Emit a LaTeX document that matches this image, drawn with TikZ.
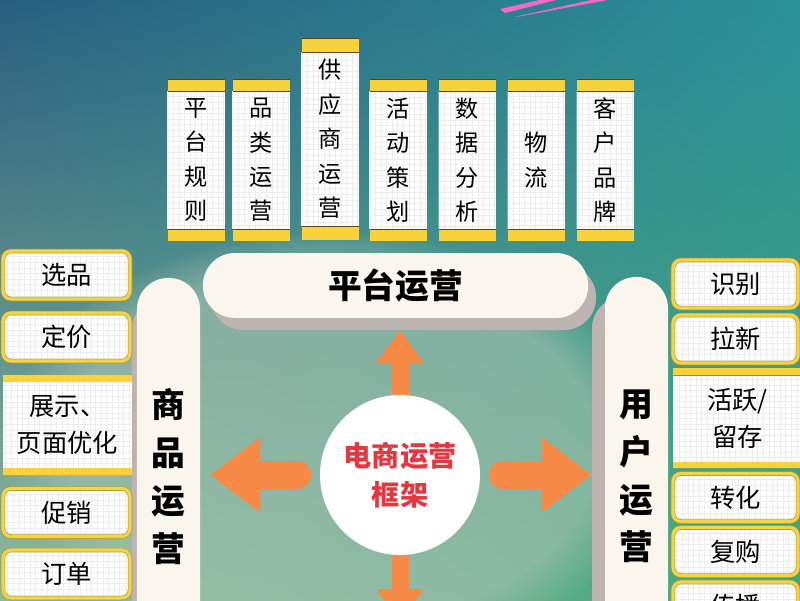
\documentclass[tikz,border=0pt]{standalone}
\usepackage{fontspec}
\setmainfont{Noto Sans CJK SC}
\usetikzlibrary{arrows.meta, positioning, calc, fadings, shadings}

\definecolor{bgul}{HTML}{285F80}
\definecolor{bgur}{HTML}{2B9199}
\definecolor{bgll}{HTML}{8DBB98}
\definecolor{bglr}{HTML}{3FA67C}
\definecolor{bglight}{HTML}{A9C3B2}
\definecolor{cream}{HTML}{FAF6EE}
\definecolor{shadowgrey}{HTML}{BDB3B0}
\definecolor{gold}{HTML}{F8D23A}
\definecolor{barline}{HTML}{5A4320}
\definecolor{boxgold}{HTML}{F3D34A}
\definecolor{boxedge}{HTML}{B39A2E}
\definecolor{gridgrey}{HTML}{ECECEC}
\definecolor{arroworange}{HTML}{F78A46}
\definecolor{hubred}{HTML}{E53740}
\definecolor{scribble}{HTML}{F06AC9}

\tikzset{
  gridline/.style={draw=gridgrey, line width=0.25pt, step=0.14cm},
  gridded/.style={path picture={\draw[gridline] (path picture bounding box.south west) grid (path picture bounding box.north east);}},
  colbody/.style={fill=white, gridded, minimum width=1.425cm, inner sep=0pt, align=center, font=\fontsize{16.5}{24.5}\selectfont},
  itembox/.style={fill=white, gridded, rounded corners=0.2cm, draw=boxedge, double=boxgold, double distance=2.2pt, line width=0.5pt, minimum height=1.2cm, inner sep=0pt, font=\fontsize{18}{26}\selectfont},
  banner/.style={fill=white, gridded, inner sep=0pt, align=center, minimum height=2.15cm, font=\fontsize{18}{26}\selectfont},
  framebar/.style={fill=cream, inner sep=0pt, align=center, font=\bfseries\fontsize{24}{34}\selectfont},
  harrow/.style={draw=arroworange, line width=0.7cm, line cap=round, -{Triangle[length=1.25cm, width=1.8cm]}},
  varrow/.style={draw=arroworange, line width=0.425cm, -{Triangle[length=0.825cm, width=1.15cm]}}
}

\begin{document}
\begin{tikzpicture}[x=0.025cm, y=-0.025cm]
  \useasboundingbox (0,0) rectangle (800,600);
  \clip (0,0) rectangle (800,600);
  % background
  \shade[upper left=bgul, upper right=bgur, lower left=bgll, lower right=bglr] (0,0) rectangle (800,600);
  \fill[bglight, opacity=0.6, path fading=circle with fuzzy edge 20 percent] (330,450) ellipse [x radius=330, y radius=220];
  \fill[scribble] (500,9) -- (548,-2) -- (556,0) -- (505,13) -- cycle;
  \fill[scribble] (514,17) -- (600,-2) -- (608,0) -- (522,16) -- cycle;

  % frame: platform on top, goods and users at the sides
  \node[framebar, minimum width=9.625cm, minimum height=1.625cm, rounded corners=0.8cm,
    preaction={fill=shadowgrey, transform canvas={shift={(8,12)}}}] (platform) at (395.5,285.5) {平台运营};
  \node[framebar, minimum width=1.575cm, minimum height=9.925cm, rounded corners=0.78cm,
    preaction={fill=shadowgrey, transform canvas={shift={(-5,20)}}}] (goods) at (168.5,476.5) {商\\品\\运\\营};
  \node[framebar, minimum width=1.575cm, minimum height=9.975cm, rounded corners=0.78cm,
    preaction={fill=shadowgrey, transform canvas={shift={(-13,20)}}}] (users) at (636.5,476.5) {用\\户\\运\\营};

  % hub and arrows
  \coordinate (dnend) at (400,622);
  \draw[varrow, shorten >=0.3cm] (400,475) -- (400,475 |- platform.south);
  \draw[varrow] (400,475) -- (dnend);
  \node[circle, fill=white, minimum size=4cm, inner sep=0pt, align=center, text=hubred,
    font=\bfseries\fontsize{20}{28}\selectfont] (hub) at (400,475) {电商运营\\框架};
  \draw[harrow, shorten <=0.5625cm, shorten >=0.25cm] (hub.west) -- (hub.west -| goods.east);
  \draw[harrow, shorten <=0.5625cm, shorten >=0.325cm] (hub.east) -- (hub.east -| users.west);

  % top columns
  \foreach \n/\cx/\ya/\yb/\bh/\txt in {
      rules/196/91/229/12/{平\\台\\规\\则},
      category/261/91/229/12/{品\\类\\运\\营},
      supplier/330/52/226/14/{供\\应\\商\\运\\营},
      campaign/398/91/229/12/{活\\动\\策\\划},
      analysis/467/91/229/12/{数\\据\\分\\析},
      logistics/536/91/229/12/{物\\流},
      brand/605/91/229/12/{客\\户\\品\\牌}}
  {
    \node[colbody, minimum height={(\yb-\ya)*0.025cm}] (\n) at (\cx,{(\ya+\yb)/2}) {\txt};
    \fill[gold] ({\cx-28.5},{\ya-\bh}) rectangle ({\cx+28.5},\ya);
    \fill[gold] ({\cx-28.5},\yb) rectangle ({\cx+28.5},{\yb+\bh});
    \draw[barline, line width=0.6pt] ({\cx-28.5},\ya) -- ({\cx+28.5},\ya) ({\cx-28.5},\yb) -- ({\cx+28.5},\yb)
      ({\cx-28.5},{\ya-\bh}) -- ({\cx+28.5},{\ya-\bh});
  }

  % goods side
  \node[itembox, minimum width=3.175cm] (pick) at (66.5,275) {选品};
  \node[itembox, minimum width=3.175cm] (price) at (66.5,337) {定价};
  \node[banner, minimum width=3.225cm] (show) at (67.5,425) {展示、\\页面优化};
  \fill[gold] (3,375) rectangle (132,382) (3,468) rectangle (132,475);
  \node[itembox, minimum width=3.175cm] (promo) at (66.5,512.5) {促销};
  \node[itembox, minimum width=3.175cm] (order) at (66.5,574) {订单};

  % users side
  \node[itembox, minimum width=3.125cm] (ident) at (735.5,284) {识别};
  \node[itembox, minimum width=3.125cm] (acquire) at (735.5,339) {拉新};
  \node[banner, minimum width=3.225cm] (retain) at (737.5,418.5) {活跃/\\留存};
  \fill[gold] (673,368) rectangle (802,375) (673,462) rectangle (802,468);
  \node[itembox, minimum width=3.125cm] (convert) at (735.5,497.5) {转化};
  \node[itembox, minimum width=3.125cm] (rebuy) at (735.5,551.5) {复购};
  \node[itembox, minimum width=3.125cm] (spread) at (735.5,606) {传播};
\end{tikzpicture}
\end{document}
